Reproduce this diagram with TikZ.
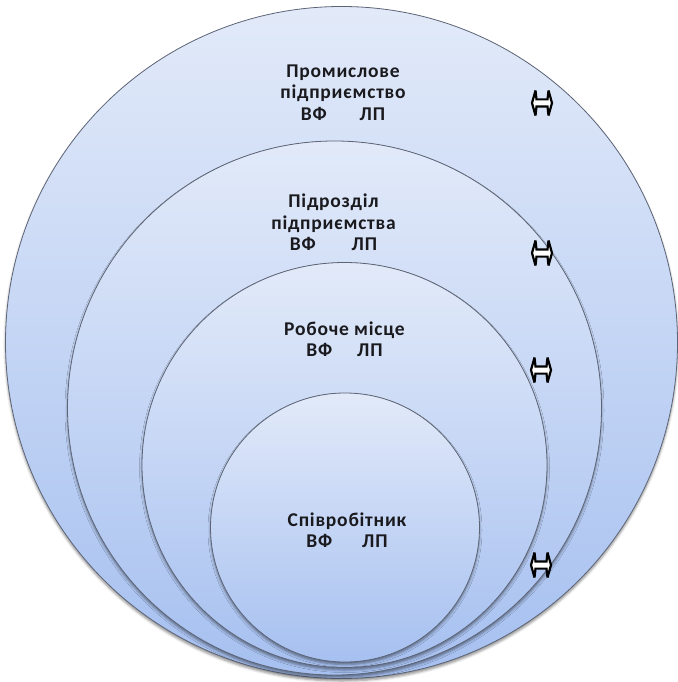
\documentclass[tikz,border=0pt]{standalone}
\usepackage{fontspec}
\newfontfamily\labelfont{Carlito}[LetterSpace=4]
\usetikzlibrary{shadows.blur}

\definecolor{ringtop}{RGB}{226,234,249}
\definecolor{ringbottom}{RGB}{166,192,240}
\definecolor{ringline}{RGB}{92,100,118}
\definecolor{labeltext}{RGB}{26,26,30}

\tikzset{
  ring/.style={circle, draw=ringline, line width=0.8pt, inner sep=0pt,
    top color=ringtop, bottom color=ringbottom, shading angle=0,
    blur shadow={shadow xshift=0pt, shadow yshift=-2.5pt,
      shadow blur radius=2.5pt, shadow opacity=45}},
  ringlabel/.style={align=center, inner sep=0pt, text=labeltext,
    font=\labelfont\bfseries\fontsize{19.5}{21.5}\selectfont},
  dblarrow/.pic={
    \filldraw[fill=white, draw=black, line width=2.2pt, line join=miter, miter limit=5]
      (-10,0) -- (-6.5,-12.5) -- (-5.5,-3.6) -- (5.5,-3.6) -- (6.5,-12.5)
      -- (10,0) -- (6.5,12.5) -- (5.5,3.6) -- (-5.5,3.6) -- (-6.5,12.5) -- cycle;
  }
}

\begin{document}
\begin{tikzpicture}[x=1pt, y=-1pt]
  \useasboundingbox (0,0) rectangle (677,682);

  % nested levels, outermost first
  \node[ring, minimum size=672pt] (enterprise) at (341.5,342.5) {};
  \node[ring, minimum size=534pt] (division)   at (334.5,408) {};
  \node[ring, minimum size=405pt] (workplace)  at (344.5,465) {};
  \node[ring, minimum size=269pt] (employee)   at (345,527.5) {};

  % level captions
  \node[ringlabel] (enterpriseText) at (343,92.5)
    {Промислове\\підприємство\\ВФ\hspace{33pt}ЛП};
  \node[ringlabel] (divisionText) at (333.5,222.5)
    {Підрозділ\\підприємства\\ВФ\hspace{36pt}ЛП};
  \node[ringlabel] (workplaceText) at (344.5,339)
    {Робоче місце\\ВФ\hspace{25pt}ЛП};
  \node[ringlabel] (employeeText) at (347,530)
    {Співробітник\\ВФ\hspace{30pt}ЛП};

  % two-way exchange marks on the right
  \pic at (542,103) {dblarrow};
  \pic at (542,253) {dblarrow};
  \pic at (541,370) {dblarrow};
  \pic at (541,565) {dblarrow};
\end{tikzpicture}
\end{document}
